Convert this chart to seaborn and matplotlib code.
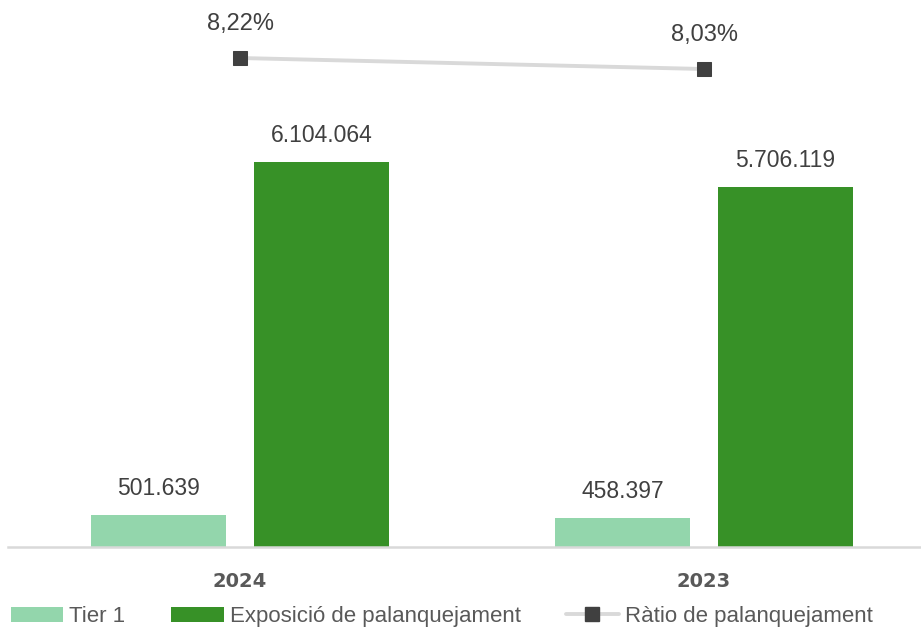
import matplotlib
matplotlib.use("Agg")
import matplotlib.pyplot as plt
import seaborn as sns
import pandas as pd
from matplotlib.patches import Patch
from matplotlib.lines import Line2D

years = ["2024", "2023"]
tier1 = [501639, 458397]
exposicio = [6104064, 5706119]
ratio = [8.22, 8.03]
series_names = ["Tier 1", "Exposició de palanquejament", "Ràtio de palanquejament"]

def fmt_num(v):
    return f"{v:,}".replace(",", ".")

def fmt_pct(v):
    return f"{v:.2f}".replace(".", ",") + "%"

df = pd.DataFrame({
    "year": years * 2,
    "series": [series_names[0]] * len(years) + [series_names[1]] * len(years),
    "value": tier1 + exposicio,
})

sns.set_theme(style="white")
plt.rcParams["font.family"] = ["Liberation Sans", "DejaVu Sans"]

c_light = "#93d6ac"
c_dark = "#379127"
c_line = "#d9d9d9"
c_marker = "#404040"
c_text = "#404040"

fig = plt.figure(figsize=(9.21, 6.27), dpi=100)
ax = fig.add_axes([8 / 921, 80 / 627, 913 / 921, 547 / 627])

sns.barplot(data=df, x="year", y="value", hue="series", order=years,
            hue_order=series_names[:2], palette=[c_light, c_dark],
            width=0.7026, gap=0.166, ax=ax, legend=False, saturation=1,
            linewidth=0)

ax.set_xlim(-0.5, -0.5 + 913 / 464)
ax.set_ylim(0, 547 * 15855)
for cont in ax.containers:
    labels = [fmt_num(int(v)) for v in cont.datavalues]
    ax.bar_label(cont, labels=labels, padding=11, fontsize=16.5, color=c_text)

for s in ["top", "left", "right"]:
    ax.spines[s].set_visible(False)
ax.spines["bottom"].set_color(c_line)
ax.spines["bottom"].set_linewidth(1.8)
ax.set_yticks([])
ax.set_xlabel("")
ax.set_ylabel("")
ax.tick_params(axis="x", length=0, pad=18)
for lab in ax.get_xticklabels():
    lab.set_fontfamily("DejaVu Sans")
    lab.set_fontweight("bold")
    lab.set_fontsize(14)
    lab.set_color("#595959")

ax2 = ax.twinx()
xs = list(range(len(years)))
sns.lineplot(x=xs, y=ratio, ax=ax2, color=c_line, linewidth=2.8,
             marker="s", markersize=10, markerfacecolor=c_marker,
             markeredgecolor=c_marker, legend=False)
ax2.set_ylim(8.22 - 489 / 58, 8.22 - 489 / 58 + 547 / 58)
ax2.set_xlim(ax.get_xlim())
ax2.axis("off")
for x, v in zip(xs, ratio):
    ax2.annotate(fmt_pct(v), (x, v), xytext=(0, 16.5), textcoords="offset points",
                 ha="center", va="bottom", fontsize=17, color=c_text)

handles = [
    Patch(facecolor=c_light, edgecolor="none"),
    Patch(facecolor=c_dark, edgecolor="none"),
    Line2D([0], [0], color=c_line, linewidth=2.8, marker="s", markersize=10,
           markerfacecolor=c_marker, markeredgecolor=c_marker),
]
fig.legend(handles, series_names, loc="lower left",
           bbox_to_anchor=(11 / 921, 0.0),
           ncol=3, frameon=False, fontsize=16, labelcolor="#595959",
           handlelength=2.36, handleheight=0.65, handletextpad=0.27,
           columnspacing=2.05, borderaxespad=0.0, borderpad=0.0)

fig.savefig("out.png", dpi=100)
